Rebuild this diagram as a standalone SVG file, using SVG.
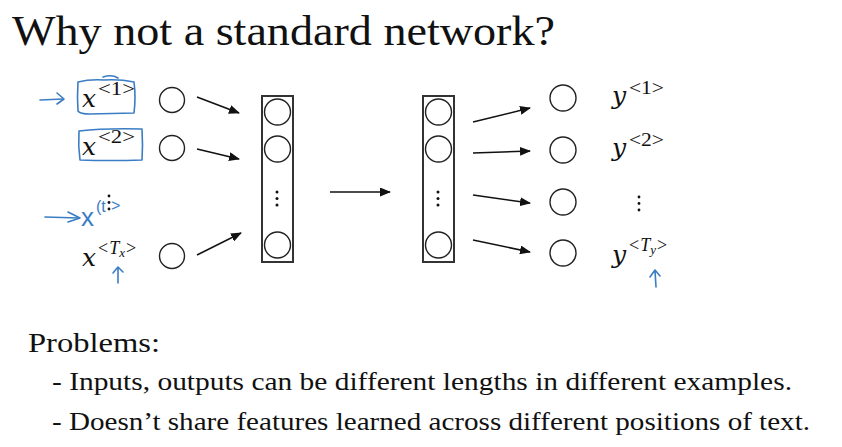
<svg xmlns="http://www.w3.org/2000/svg" width="842" height="447" viewBox="0 0 842 447">
<defs>
<marker id="ah" markerUnits="userSpaceOnUse" markerWidth="11" markerHeight="9" refX="10" refY="4.5" orient="auto">
<path d="M0,0 L11,4.5 L0,9 z" fill="#111"/>
</marker>
<style>
.serif{font-family:"Liberation Serif","Times New Roman",serif;fill:#111}
.math{font-family:"DejaVu Serif","Liberation Serif",serif;font-style:italic;fill:#111}
.sup{font-family:"Liberation Serif","DejaVu Serif",serif;fill:#111;font-size:18px}
.node{fill:#fff;stroke:#222;stroke-width:1.4}
.col{fill:#fff;stroke:#333;stroke-width:2}
.conn{stroke:#111;stroke-width:1.5;fill:none;marker-end:url(#ah)}
.blue{stroke:#3a7dc4;stroke-width:1.6;fill:none;stroke-linecap:round;stroke-linejoin:round}
.bluetxt{font-family:"Liberation Sans",Arial,sans-serif;fill:#3a7dc4}
.dot{fill:#111}
</style>
</defs>
<rect width="842" height="447" fill="#fff"/>

<text class="serif" x="12" y="45" font-size="42" textLength="543" lengthAdjust="spacingAndGlyphs">Why not a standard network?</text>

<!-- input labels -->
<g id="label-x1">
<text class="math" x="82" y="107" font-size="25">x</text>
<text class="sup" x="98" y="95" textLength="37" lengthAdjust="spacingAndGlyphs">&lt;1&gt;</text>
</g>
<g id="label-x2">
<text class="math" x="82" y="155" font-size="25">x</text>
<text class="sup" x="98" y="143" textLength="37" lengthAdjust="spacingAndGlyphs">&lt;2&gt;</text>
</g>
<g id="label-xdots">
<circle class="dot" cx="109" cy="196" r="1.4"/>
<circle class="dot" cx="109" cy="202.5" r="1.4"/>
<circle class="dot" cx="109" cy="209" r="1.4"/>
</g>
<g id="label-xTx">
<text class="math" x="82" y="266" font-size="25">x</text>
<text class="sup" x="98" y="254">&lt;<tspan font-style="italic" dx="1">T</tspan><tspan font-style="italic" font-size="13" dy="3">x</tspan><tspan dy="-3" dx="1">&gt;</tspan></text>
</g>

<!-- input circles -->
<g id="in1"><circle class="node" cx="172" cy="100" r="12.5"/></g>
<g id="in2"><circle class="node" cx="172" cy="148" r="12.5"/></g>
<g id="in3"><circle class="node" cx="172" cy="256" r="12.5"/></g>

<!-- left column -->
<g id="hidden1">
<rect class="col" x="262" y="96" width="31" height="166"/>
<circle class="node" cx="277.5" cy="112" r="13"/>
<circle class="node" cx="277.5" cy="149" r="13"/>
<circle class="node" cx="277.5" cy="245" r="13"/>
<circle class="dot" cx="277" cy="192" r="1.5"/>
<circle class="dot" cx="277" cy="198.5" r="1.5"/>
<circle class="dot" cx="277" cy="205" r="1.5"/>
</g>

<!-- right column -->
<g id="hidden2">
<rect class="col" x="423" y="96" width="31" height="166"/>
<circle class="node" cx="438.5" cy="112" r="13"/>
<circle class="node" cx="438.5" cy="149" r="13"/>
<circle class="node" cx="438.5" cy="245" r="13"/>
<circle class="dot" cx="438" cy="192" r="1.5"/>
<circle class="dot" cx="438" cy="198.5" r="1.5"/>
<circle class="dot" cx="438" cy="205" r="1.5"/>
</g>

<!-- output circles -->
<g id="out1"><circle class="node" cx="563" cy="98" r="13"/></g>
<g id="out2"><circle class="node" cx="563" cy="150" r="13"/></g>
<g id="out3"><circle class="node" cx="563" cy="202" r="13"/></g>
<g id="out4"><circle class="node" cx="563" cy="253" r="13"/></g>

<!-- output labels -->
<g id="label-y1">
<text class="math" x="612" y="104" font-size="25">y</text>
<text class="sup" x="629" y="94" textLength="35" lengthAdjust="spacingAndGlyphs">&lt;1&gt;</text>
</g>
<g id="label-y2">
<text class="math" x="612" y="156" font-size="25">y</text>
<text class="sup" x="629" y="146" textLength="35" lengthAdjust="spacingAndGlyphs">&lt;2&gt;</text>
</g>
<g id="label-ydots">
<circle class="dot" cx="639" cy="197" r="1.4"/>
<circle class="dot" cx="639" cy="203.5" r="1.4"/>
<circle class="dot" cx="639" cy="210" r="1.4"/>
</g>
<g id="label-yTy">
<text class="math" x="612" y="263" font-size="25">y</text>
<text class="sup" x="629" y="251">&lt;<tspan font-style="italic" dx="1">T</tspan><tspan font-style="italic" font-size="13" dy="3">y</tspan><tspan dy="-3" dx="1">&gt;</tspan></text>
</g>

<!-- connectors -->
<g id="connectors">
<line class="conn" x1="197" y1="97" x2="239" y2="113"/>
<line class="conn" x1="197" y1="149" x2="239" y2="159"/>
<line class="conn" x1="197" y1="255" x2="241" y2="233"/>
<line class="conn" x1="330" y1="192" x2="390" y2="192"/>
<line class="conn" x1="473" y1="122" x2="530" y2="108"/>
<line class="conn" x1="473" y1="153" x2="530" y2="151"/>
<line class="conn" x1="473" y1="195" x2="530" y2="203"/>
<line class="conn" x1="473" y1="240" x2="530" y2="252"/>
</g>

<!-- blue annotations -->
<g id="annotations">
<path class="blue" d="M40,100 L63,99"/>
<path class="blue" d="M57,93 L64,99 L57,104"/>
<path class="blue" d="M78,82 Q77,97 78,111 Q80,114 90,114 L134,113 Q136,97 134,82 Q120,79 104,80 Q90,79 78,82 M103,77 Q112,74 118,78"/>
<path class="blue" d="M79,131 Q105,128 142,129 Q143,145 142,160 Q110,161 80,160 Q78,146 79,131"/>
<path class="blue" d="M45,217 L79,218"/>
<path class="blue" d="M68,212 L80,218 L68,222"/>
<text class="bluetxt" x="81" y="226" font-size="26">x</text>
<text class="bluetxt" x="96" y="212" font-size="16">(t</text>
<text class="bluetxt" x="111" y="211" font-size="16">&gt;</text>
<path class="blue" d="M118,283 L118,268 M113,273 L118,267 L123,272"/>
<path class="blue" d="M656,287 L655,271 M650,277 L655,270 L660,276"/>
</g>

<!-- problems -->
<text class="serif" x="28" y="352" font-size="28" textLength="132" lengthAdjust="spacingAndGlyphs">Problems:</text>
<text class="serif" x="52" y="390" font-size="26" textLength="740" lengthAdjust="spacingAndGlyphs">- Inputs, outputs can be different lengths in different examples.</text>
<text class="serif" x="52" y="430" font-size="26" textLength="758" lengthAdjust="spacingAndGlyphs">- Doesn’t share features learned across different positions of text.</text>
</svg>
